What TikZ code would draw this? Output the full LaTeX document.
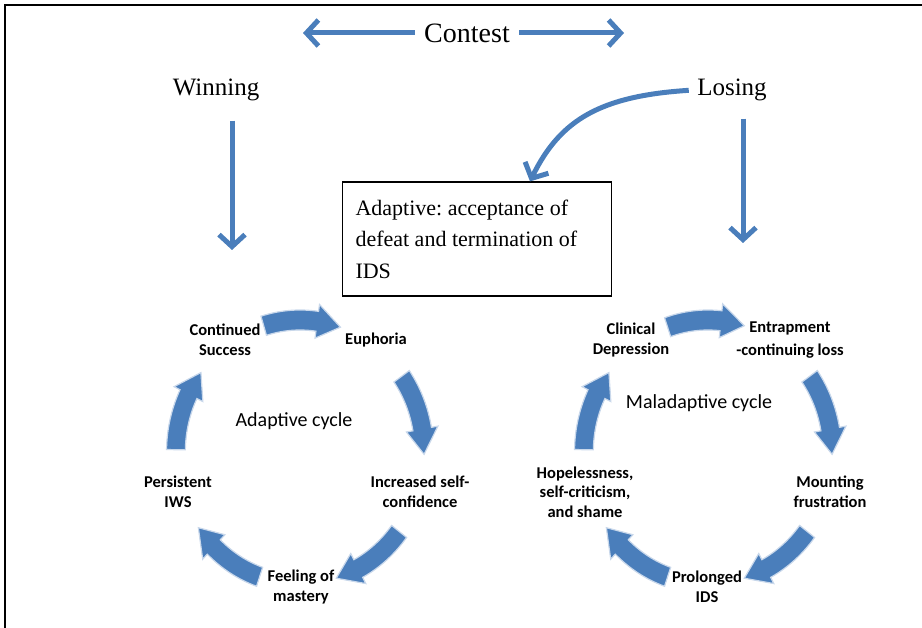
\documentclass[tikz,border=0pt]{standalone}
\usepackage{fontspec}
\setmainfont{Liberation Serif}
\newfontfamily\calibri{Carlito}
\usepackage{tikz}
\usetikzlibrary{arrows.meta, positioning}
\usepackage{xcolor}
\definecolor{arrowblue}{RGB}{74,126,187}
\frenchspacing

% block arrow of a cycle: #1 centre, #2 middle angle
\newcommand{\cycarrow}[2]{%
  \filldraw[cycstyle, shift={#1}, xscale=0.94, yscale=-1]
    ({#2+17}:142) arc[start angle={#2+17}, end angle={#2-8}, radius=142]
    -- ({#2-8}:149) -- ({#2-19}:132) -- ({#2-8}:115)
    -- ({#2-8}:122) arc[start angle={#2-8}, end angle={#2+17}, radius=122] -- cycle;}

\begin{document}
\begin{tikzpicture}[x=1pt, y=-1pt,
    blarrow/.style={draw=arrowblue, line width=5pt, -{Straight Barb[length=12pt,width=26pt]}},
    cycstyle/.style={fill=arrowblue, draw=arrowblue!30, line width=1.2pt},
    lbl/.style={font=\calibri\bfseries\fontsize{16.5}{19.5}\selectfont, align=center},
    title/.style={font=\fontsize{25}{28}\selectfont},
    cyctitle/.style={font=\calibri\fontsize{20}{24}\selectfont}]
    \useasboundingbox (0,0) rectangle (922,628);
    \draw[line width=2.5pt] (922,5) -- (5,5) -- (5,628);

    \node[font=\fontsize{28}{32}\selectfont] (contest) at (467,33) {Contest};
    \node[title] (winning) at (216,90) {Winning};
    \node[title] (losing) at (732,90) {Losing};
    \node[draw, line width=1.2pt, minimum width=269pt, minimum height=114pt, text width=243pt,
        align=flush left, font=\fontsize{22}{31.5}\selectfont] (adaptbox) at (477,239)
        {Adaptive: acceptance of\\ defeat and termination of\\ IDS};

    \coordinate (cleft) at (303,33);
    \coordinate (cright) at (624,33);
    \coordinate (wtip) at (232,250);
    \coordinate (ltip) at (743,243);

    \draw[blarrow, shorten <=6pt] (contest) -- (cleft);
    \draw[blarrow, shorten <=6pt] (contest) -- (cright);
    \draw[blarrow, shorten <=16pt] (winning.south -| wtip) -- (wtip);
    \draw[blarrow, shorten <=14pt] (losing.south -| ltip) -- (ltip);
    \draw[blarrow, shorten <=5pt] (losing.west) .. controls (600,96) and (560,120) .. ([xshift=53pt]adaptbox.north);

    % adaptive cycle
    \node[lbl] (cs) at (225,340) {Continued\\Success};
    \node[lbl] (euph) at (376,340) {Euphoria};
    \node[lbl] (isc) at (420,492) {Increased self-\\confidence};
    \node[lbl] (fom) at (301,587) {Feeling of\\mastery};
    \node[lbl] (piws) at (178,492) {Persistent\\IWS};
    \node[cyctitle] (adcyc) at (294,421) {Adaptive cycle};

    % maladaptive cycle
    \node[lbl] (cd) at (631,340) {Clinical\\Depression};
    \node[lbl] (entr) at (790,340) {Entrapment\\[4pt]-continuing loss};
    \node[lbl] (mf) at (830,492) {Mounting\\frustration};
    \node[lbl] (pids) at (707,587) {Prolonged\\IDS};
    \node[lbl] (hope) at (585,492) {Hopelessness,\\self-criticism,\\and shame};
    \node[cyctitle] (malcyc) at (699,403) {Maladaptive cycle};

    \foreach \m/\n in {90/92,18/18,-54/-54,-126/-126,162/162} {
        \cycarrow{(300,452)}{\m}
        \cycarrow{(708,452)}{\n}
    }
\end{tikzpicture}
\end{document}
